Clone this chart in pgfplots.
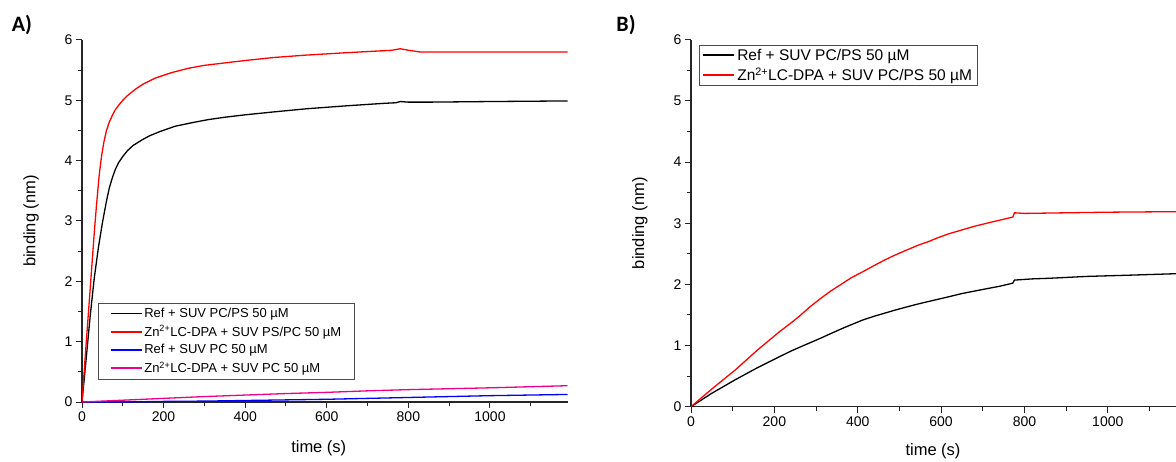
\documentclass[border=0pt]{standalone}
\usepackage{fontspec}
\setmainfont{Liberation Sans}
\newfontfamily\panelfont{Carlito}
\usepackage{pgfplots}
\pgfplotsset{compat=1.18}
\pgfplotsset{
 common/.style={
  scale only axis, xmin=0, ymin=0, ymax=6,
  axis x line*=bottom, axis y line*=left,
  tick align=outside,
  xtick={0,200,...,1000}, minor xtick={100,300,...,1100},
  ytick={0,...,6}, minor ytick={0.5,1.5,...,5.5},
  major tick length=6pt, minor tick length=4pt,
  every tick/.style={black!85, line width=1pt},
  axis line style={line width=1.2pt, black!85},
  tick label style={font=\fontsize{14}{15}\selectfont},
  /pgf/number format/assume math mode=true,
  /pgf/number format/1000 sep={},
  label style={font=\fontsize{16.5}{18}\selectfont},
  xlabel={time (s)}, ylabel={binding (nm)},
  legend cell align=left,
  legend style={draw=black!70, line width=0.8pt, anchor=north west},
  legend image code/.code={\draw[#1, line width=1.6pt] (0pt,0pt) -- (31pt,0pt);},
 },
 curve/.style={line width=1.3pt, #1},
}
\begin{document}
\begin{tikzpicture}
\useasboundingbox (0,0) rectangle (1176pt,461pt);
\clip (0,0) rectangle (1176pt,461pt);
\node[font=\panelfont\bfseries\fontsize{22}{24}\selectfont] at (22pt,436pt) {A)};
\node[font=\panelfont\bfseries\fontsize{22}{24}\selectfont] at (626pt,436pt) {B)};
% Panel A
\begin{axis}[common, at={(82pt,59pt)}, anchor=south west, width=485.5pt, height=362pt, xmax=1190,
  x label style={at={(axis description cs:0.5,0)}, anchor=center, yshift=-46pt, xshift=-6pt},
  y label style={at={(axis description cs:-0.105,0.5)}, anchor=center},
  legend style={at={(axis description cs:0.0336,0.274)}, font=\fontsize{13}{15}\selectfont, inner xsep=11pt, inner ysep=3pt, row sep=2.5pt}]
\addplot[curve=black] coordinates {(0,0) (10,0.7) (20,1.42) (30,2.05) (40,2.55) (50,2.97) (60,3.33) (67,3.55) (75,3.73) (82,3.86) (90,3.97) (100,4.07) (112,4.17) (125,4.25) (146,4.34) (165,4.41) (190,4.48) (228,4.57) (270,4.63) (309,4.68) (350,4.72) (400,4.76) (473,4.81) (550,4.86) (650,4.91) (740,4.95) (770,4.96) (780,4.98) (800,4.97) (850,4.97) (1000,4.98) (1190,4.99)};
\addlegendentry{Ref + SUV PC/PS 50 µM}
\addplot[curve=red] coordinates {(0,0) (10,0.95) (20,1.87) (30,2.8) (36,3.3) (42,3.75) (48,4.08) (54,4.32) (60,4.5) (67,4.64) (75,4.76) (82,4.85) (90,4.92) (100,5.0) (110,5.07) (130,5.18) (150,5.27) (180,5.37) (220,5.46) (260,5.53) (300,5.58) (350,5.62) (400,5.66) (470,5.71) (550,5.75) (650,5.79) (760,5.83) (780,5.855) (800,5.83) (830,5.80) (1000,5.80) (1190,5.80)};
\addlegendentry{Zn\textsuperscript{2+}LC-DPA + SUV PS/PC 50 µM}
\addplot[curve=blue] coordinates {(0,0) (100,0.0) (200,0.01) (300,0.015) (400,0.025) (500,0.035) (600,0.045) (700,0.06) (800,0.075) (900,0.09) (1000,0.105) (1190,0.125)};
\addlegendentry{Ref + SUV PC 50 µM}
\addplot[curve=magenta] coordinates {(0,0) (50,0.015) (100,0.03) (200,0.06) (300,0.09) (400,0.115) (500,0.14) (600,0.16) (700,0.185) (800,0.205) (900,0.22) (1000,0.235) (1190,0.27)};
\addlegendentry{Zn\textsuperscript{2+}LC-DPA + SUV PC 50 µM}
\end{axis}
% Panel B
\begin{axis}[common, at={(691pt,54.3pt)}, anchor=south west, width=496pt, height=367pt, xmax=1190,
  x label style={at={(axis description cs:0.5,0)}, anchor=center, yshift=-45pt, xshift=-6pt},
  y label style={at={(axis description cs:-0.103,0.5)}, anchor=center},
  legend style={at={(axis description cs:0.0167,0.9856)}, font=\fontsize{15.5}{17}\selectfont, inner xsep=3pt, inner ysep=1.5pt, row sep=2pt}]
\addplot[curve=black] coordinates {(0,0) (50,0.22) (106,0.44) (160,0.64) (213,0.82) (240,0.91) (270,1.0) (311,1.12) (340,1.21) (370,1.3) (413,1.42) (440,1.48) (465,1.53) (490,1.58) (517,1.63) (545,1.68) (570,1.72) (595,1.76) (620,1.80) (650,1.85) (680,1.89) (710,1.93) (741,1.97) (772,2.02) (776,2.07) (820,2.09) (861,2.10) (950,2.13) (1050,2.15) (1190,2.18)};
\addlegendentry{Ref + SUV PC/PS 50 µM}
\addplot[curve=red] coordinates {(0,0) (50,0.29) (106,0.60) (160,0.93) (213,1.23) (240,1.37) (260,1.48) (285,1.63) (311,1.77) (335,1.89) (360,2.00) (385,2.11) (413,2.21) (440,2.31) (465,2.40) (490,2.48) (517,2.56) (545,2.64) (570,2.70) (595,2.77) (620,2.83) (650,2.89) (680,2.95) (710,3.0) (741,3.05) (772,3.10) (776,3.17) (800,3.16) (900,3.17) (1000,3.18) (1190,3.19)};
\addlegendentry{Zn\textsuperscript{2+}LC-DPA + SUV PC/PS 50 µM}
\end{axis}
\end{tikzpicture}
\end{document}
